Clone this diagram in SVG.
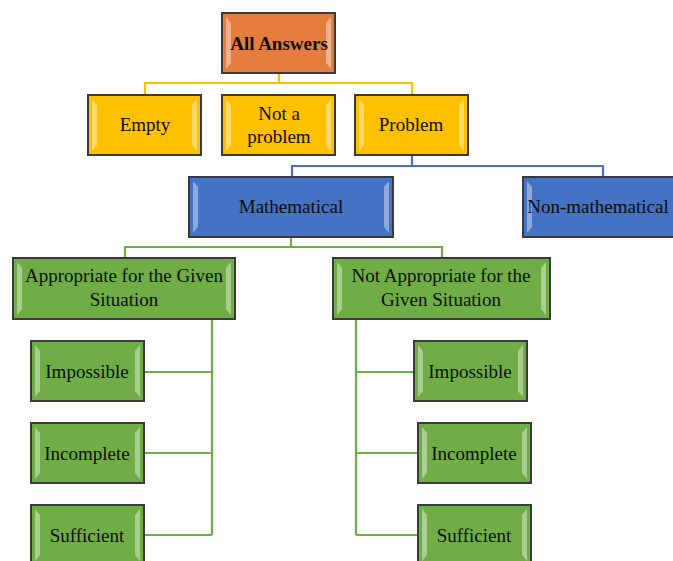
<svg xmlns="http://www.w3.org/2000/svg" width="673" height="561" viewBox="0 0 673 561">
<style>
.box{stroke:#3a3a3a;stroke-width:2}
.or{fill:#E57D3E}.ye{fill:#FFC000}.bl{fill:#4472C4}.gr{fill:#70AD47}
.bev{fill:#ffffff;fill-opacity:0.4}
.t{font-family:'Liberation Serif','DejaVu Serif',serif;font-size:19px;fill:#0d0d0d;text-anchor:middle}
.b{font-weight:bold}
.cy{stroke:#FFC000;stroke-width:2.2;fill:none}
.cb{stroke:#4472C4;stroke-width:2.2;fill:none}
.cg{stroke:#70AD47;stroke-width:2.2;fill:none}
</style>
<rect width="673" height="561" fill="#ffffff"/>
<g id="connectors">
<path class="cy" d="M279 73V83M145 95V83H412V95"/>
<path class="cb" d="M412 155V166M292 177V166H603V177"/>
<path class="cg" d="M291 237V247M125 258V247H442V258"/>
<path class="cg" d="M212 319V535M144 372H212M144 453H212M144 535H212"/>
<path class="cg" d="M356 319V535M356 372H414M356 453H418M356 535H418"/>
</g>
<g id="all-answers">
<rect class="box or" x="222" y="13" width="113" height="60"/>
<path class="bev" d="M226 17L231 23V63L226 69ZM331 17L326 23V63L331 69Z"/>
<text class="t b" x="279" y="50" font-size="20">All Answers</text>
</g>
<g id="empty">
<rect class="box ye" x="88" y="95" width="113" height="60"/>
<path class="bev" d="M92 99L97 105V145L92 151ZM197 99L192 105V145L197 151Z"/>
<text class="t" x="145" y="131">Empty</text>
</g>
<g id="not-a-problem">
<rect class="box ye" x="222" y="95" width="113" height="60"/>
<path class="bev" d="M226 99L231 105V145L226 151ZM331 99L326 105V145L331 151Z"/>
<text class="t" x="279" y="120">Not a</text>
<text class="t" x="279" y="143">problem</text>
</g>
<g id="problem">
<rect class="box ye" x="355" y="95" width="113" height="60"/>
<path class="bev" d="M359 99L364 105V145L359 151ZM464 99L459 105V145L464 151Z"/>
<text class="t" x="411" y="131">Problem</text>
</g>
<g id="mathematical">
<rect class="box bl" x="189" y="177" width="204" height="60"/>
<path class="bev" d="M193 181L198 187V227L193 233ZM389 181L384 187V227L389 233Z"/>
<text class="t" x="291" y="213">Mathematical</text>
</g>
<g id="non-mathematical">
<rect class="box bl" x="523" y="177" width="152" height="60"/>
<path class="bev" d="M527 181L532 187V227L527 233Z"/>
<text class="t" x="598" y="213">Non-mathematical</text>
</g>
<g id="appropriate">
<rect class="box gr" x="13" y="258" width="222" height="61"/>
<path class="bev" d="M17 262L22 268V309L17 315ZM231 262L226 268V309L231 315Z"/>
<text class="t" x="124" y="282">Appropriate for the Given</text>
<text class="t" x="124" y="306">Situation</text>
</g>
<g id="not-appropriate">
<rect class="box gr" x="333" y="258" width="217" height="61"/>
<path class="bev" d="M337 262L342 268V309L337 315ZM546 262L541 268V309L546 315Z"/>
<text class="t" x="441" y="282">Not Appropriate for the</text>
<text class="t" x="441" y="306">Given Situation</text>
</g>
<g id="impossible-left">
<rect class="box gr" x="31" y="341" width="113" height="60"/>
<path class="bev" d="M35 345L40 351V391L35 397ZM140 345L135 351V391L140 397Z"/>
<text class="t" x="87" y="378">Impossible</text>
</g>
<g id="incomplete-left">
<rect class="box gr" x="31" y="423" width="113" height="60"/>
<path class="bev" d="M35 427L40 433V473L35 479ZM140 427L135 433V473L140 479Z"/>
<text class="t" x="87" y="460">Incomplete</text>
</g>
<g id="sufficient-left">
<rect class="box gr" x="31" y="505" width="113" height="60"/>
<path class="bev" d="M35 509L40 515V555L35 561ZM140 509L135 515V555L140 561Z"/>
<text class="t" x="87" y="542">Sufficient</text>
</g>
<g id="impossible-right">
<rect class="box gr" x="414" y="341" width="113" height="60"/>
<path class="bev" d="M418 345L423 351V391L418 397ZM523 345L518 351V391L523 397Z"/>
<text class="t" x="470" y="378">Impossible</text>
</g>
<g id="incomplete-right">
<rect class="box gr" x="418" y="423" width="113" height="60"/>
<path class="bev" d="M422 427L427 433V473L422 479ZM527 427L522 433V473L527 479Z"/>
<text class="t" x="474" y="460">Incomplete</text>
</g>
<g id="sufficient-right">
<rect class="box gr" x="418" y="505" width="113" height="60"/>
<path class="bev" d="M422 509L427 515V555L422 561ZM527 509L522 515V555L527 561Z"/>
<text class="t" x="474" y="542">Sufficient</text>
</g>
</svg>
